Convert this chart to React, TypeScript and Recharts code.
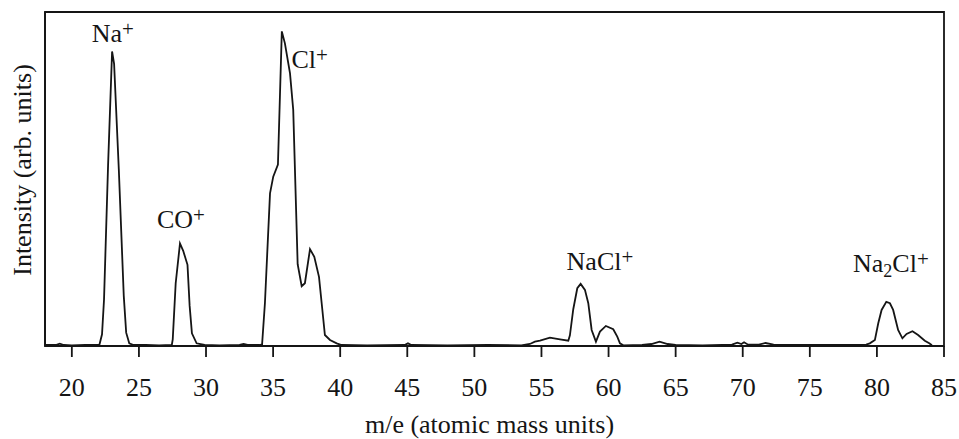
import React from 'react';
import { LineChart, Line, XAxis, YAxis, ReferenceArea, ReferenceDot } from 'recharts';

// m/e values (atomic mass units)
const massToCharge: number[] = [
  18, 18.8, 19.1, 19.4, 20, 21, 22.05, 22.25, 22.4, 22.7, 23.0, 23.15, 23.5, 23.87, 24.05, 24.28, 24.6,
  25.5, 26.5, 27.45, 27.52, 27.74, 28.06, 28.3, 28.62, 28.78, 28.95, 29.3, 29.9,
  31, 32.5, 32.8, 33.1, 34.0, 34.18, 34.39, 34.77, 35.01, 35.36, 35.65, 35.88, 36.26, 36.5, 36.83,
  37.13, 37.37, 37.75, 38.07, 38.42, 38.62, 38.86, 39.24, 39.74, 40.1,
  42, 44.8, 45.05, 45.3, 48, 51, 53.5, 54.14, 54.51, 54.89, 55.63, 56.38, 57.0, 57.12, 57.37, 57.67,
  57.92, 58.24, 58.49, 58.74, 59.06, 59.36, 59.8, 60.35, 60.65, 60.85, 61.1,
  62.5, 63.2, 63.8, 64.4, 65, 67, 69.2, 69.6, 69.9, 70.1, 70.4, 71.2, 71.7, 72.3, 74, 77,
  79.2, 79.47, 79.85, 80.1, 80.35, 80.7, 80.97, 81.21, 81.58, 81.9, 82.21, 82.65, 83.07, 83.57, 83.9, 84.1,
];

// Intensity (arb. units)
const intensity: number[] = [
  0.3, 0.3, 0.7, 0.3, 0.2, 0.3, 0.3, 3.5, 14, 54, 88.2, 84.5, 53, 15, 4, 0.8, 0.3,
  0.3, 0.2, 0.3, 2, 18.8, 30.7, 28.5, 24.3, 12, 3.8, 0.8, 0.3,
  0.2, 0.3, 0.6, 0.3, 0.3, 0.5, 12.8, 45.7, 50.7, 54.3, 94.2, 90.6, 81.6, 70.7, 24.5,
  17.9, 18.8, 29, 26.7, 20.7, 12.8, 3.3, 1.8, 0.8, 0.3,
  0.2, 0.3, 0.8, 0.3, 0.2, 0.3, 0.2, 0.6, 1.3, 1.6, 2.5, 2.0, 1.6, 3.2, 11, 17.3,
  18.6, 16.8, 12.8, 4.8, 1.3, 4.3, 6.0, 5.0, 2.8, 0.8, 0.2,
  0.3, 0.6, 1.3, 0.6, 0.3, 0.2, 0.4, 1.0, 0.6, 1.1, 0.4, 0.4, 0.9, 0.4, 0.3, 0.3,
  0.4, 0.8, 1.8, 6.8, 10.8, 13.2, 12.8, 10.8, 4.8, 2.3, 3.6, 4.4, 3.3, 1.6, 0.8, 0.2,
];

const xTicks: number[] = [20, 25, 30, 35, 40, 45, 50, 55, 60, 65, 70, 75, 80, 85];

// peak annotations
type Part = { t: string; kind: 'n' | 'sup' | 'sub' };
const peakNames: Part[][] = [
  [{ t: 'Na', kind: 'n' }, { t: '+', kind: 'sup' }],
  [{ t: 'CO', kind: 'n' }, { t: '+', kind: 'sup' }],
  [{ t: 'Cl', kind: 'n' }, { t: '+', kind: 'sup' }],
  [{ t: 'NaCl', kind: 'n' }, { t: '+', kind: 'sup' }],
  [{ t: 'Na', kind: 'n' }, { t: '2', kind: 'sub' }, { t: 'Cl', kind: 'n' }, { t: '+', kind: 'sup' }],
];
const peakLabelX: number[] = [23.05, 28.13, 37.72, 59.36, 81.04];
const peakLabelY: number[] = [91.1, 35.3, 83.3, 22.75, 22.2];

const data = massToCharge.map((m, i) => ({ mz: m, v: intensity[i] }));

const FONT = '"Liberation Serif", "Times New Roman", serif';
const INK = '#151515';

function PeakLabel(props: any) {
  const { viewBox, parts } = props;
  const cx = viewBox.x + viewBox.width / 2;
  const cy = viewBox.y + viewBox.height / 2;
  let shift = 0;
  const spans = parts.map((p: Part, i: number) => {
    const target = p.kind === 'sup' ? -6 : p.kind === 'sub' ? 5 : 0;
    const dy = target - shift;
    shift = target;
    const size = p.kind === 'n' ? 26 : p.kind === 'sup' ? 21 : 18;
    return (
      <tspan key={i} dy={dy} fontSize={size}>
        {p.t}
      </tspan>
    );
  });
  return (
    <text x={cx} y={cy} textAnchor="middle" fontFamily={FONT} fontSize={26} fill={INK}>
      {spans}
    </text>
  );
}

function XLabel(props: any) {
  const { viewBox } = props;
  const cx = viewBox.x + viewBox.width / 2 - 5;
  return (
    <text x={cx} y={433} textAnchor="middle" fontFamily={FONT} fontSize={26} fill={INK}>
      m/e (atomic mass units)
    </text>
  );
}

function YLabel() {
  return (
    <text
      x={31}
      y={170}
      transform="rotate(-90, 31, 170)"
      textAnchor="middle"
      fontFamily={FONT}
      fontSize={26}
      fill={INK}
    >
      Intensity (arb. units)
    </text>
  );
}

export default function App() {
  return (
    <div style={{ position: 'absolute', left: 0, top: 0, width: 959, height: 439, background: '#fff' }}>
      <LineChart width={959} height={439} data={data} margin={{ top: 12, right: 15, left: 0, bottom: 0 }}>
        <XAxis
          dataKey="mz"
          type="number"
          domain={[18, 85]}
          ticks={xTicks}
          allowDataOverflow
          height={93}
          tickSize={11}
          tickMargin={21}
          stroke={INK}
          strokeWidth={1.8}
          tick={{ fill: INK, fontSize: 26, fontFamily: FONT }}
          label={<XLabel />}
        />
        <YAxis
          type="number"
          domain={[0, 100]}
          width={45}
          tick={false}
          tickLine={false}
          stroke={INK}
          strokeWidth={1.8}
          label={<YLabel />}
        />
        <ReferenceArea x1={18} x2={85} y1={0} y2={100} fill="none" stroke={INK} strokeWidth={1.8} />
        <Line
          type="linear"
          dataKey="v"
          stroke={INK}
          strokeWidth={1.8}
          dot={false}
          activeDot={false}
          isAnimationActive={false}
        />
        {peakNames.map((parts, i) => (
          <ReferenceDot
            key={i}
            x={peakLabelX[i]}
            y={peakLabelY[i]}
            r={1}
            fill="none"
            stroke="none"
            label={(p: any) => <PeakLabel {...p} parts={parts} />}
          />
        ))}
      </LineChart>
    </div>
  );
}
